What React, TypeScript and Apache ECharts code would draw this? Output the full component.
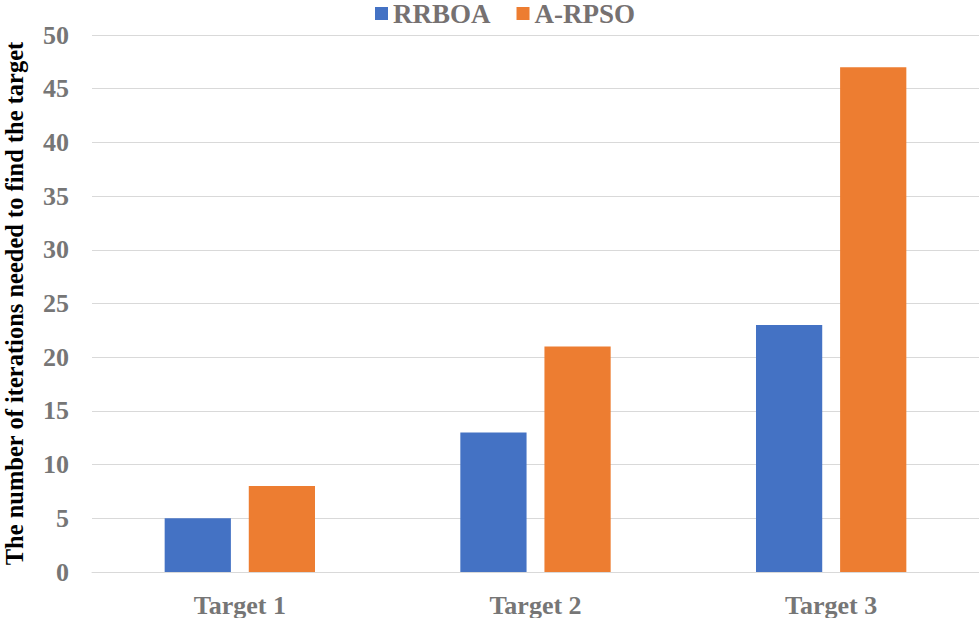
import React, { useEffect, useRef } from "react";
import * as echarts from "echarts";

const categories = ["Target 1", "Target 2", "Target 3"];
const rrboa = [5, 13, 23];
const arpso = [8, 21, 47];
const seriesNames = ["RRBOA", "A-RPSO"];

export default function App() {
  const ref = useRef<HTMLDivElement>(null);
  useEffect(() => {
    const chart = echarts.init(ref.current!, null, { renderer: "svg" });
    const font = "'Liberation Serif', 'Times New Roman', serif";
    chart.setOption({
      animation: false,
      textStyle: { fontFamily: font },
      legend: {
        top: 0,
        left: 375,
        padding: 0,
        itemWidth: 13,
        itemHeight: 13,
        itemGap: 26,
        icon: "rect",
        textStyle: { fontFamily: font, fontWeight: "bold", fontSize: 27, lineHeight: 24, color: "#767171" },
        data: seriesNames,
      },
      grid: { left: 92, right: 0, top: 35, bottom: 46, outerBoundsMode: "none", containLabel: false },
      xAxis: {
        type: "category",
        data: categories,
        axisLine: { lineStyle: { color: "#d9d9d9" } },
        axisTick: { show: false },
        axisLabel: { fontFamily: font, fontWeight: "bold", fontSize: 26, color: "#767676", margin: 20 },
      },
      yAxis: {
        type: "value",
        min: 0,
        max: 50,
        interval: 5,
        name: "The number of iterations needed to find the target",
        nameLocation: "middle",
        nameGap: 65,
        nameTextStyle: { fontFamily: font, fontWeight: "bold", fontSize: 24.5, color: "#000" },
        axisLine: { show: false },
        axisTick: { show: false },
        splitLine: { lineStyle: { color: "#d9d9d9" } },
        axisLabel: { fontFamily: font, fontWeight: "bold", fontSize: 26, color: "#767676", margin: 23 },
      },
      series: [
        {
          name: seriesNames[0],
          type: "bar",
          data: rrboa,
          barWidth: "22.4%",
          barGap: "27%",
          itemStyle: { color: "#4472C4" },
        },
        {
          name: seriesNames[1],
          type: "bar",
          data: arpso,
          barWidth: "22.4%",
          barGap: "27%",
          itemStyle: { color: "#ED7D31" },
        },
      ],
    });
    return () => chart.dispose();
  }, []);
  return (
    <div
      ref={ref}
      style={{ position: "absolute", left: 0, top: 0, width: 979, height: 618 }}
    />
  );
}
